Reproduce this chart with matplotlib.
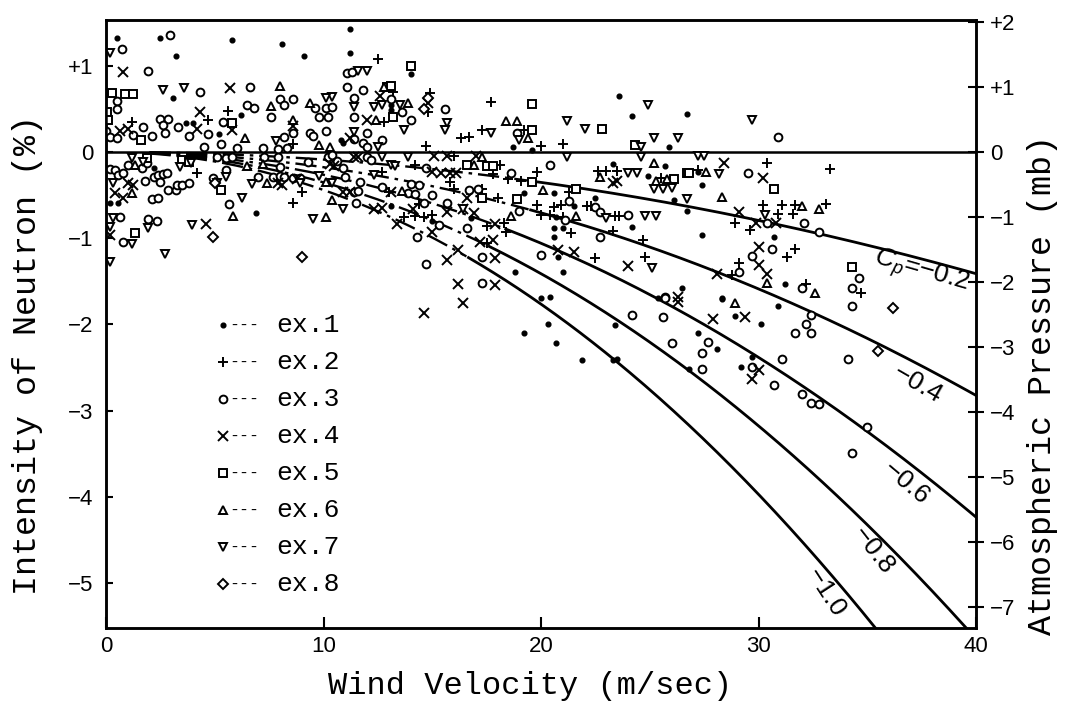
import numpy as np
import matplotlib
matplotlib.use('Agg')
import matplotlib.pyplot as plt

# (wind velocity m/s, neutron intensity %), one list per run
ex1 = [(0.5, 1.32), (2.5, 1.32), (3.2, 1.11), (5.8, 1.30), (8.1, 1.25), (9.1, 1.11), (11.2, 1.42),
       (11.2, 1.15), (3.1, 0.63), (6.2, 0.43), (3.7, 0.34), (4.0, 0.34), (5.2, 0.21), (10.8, 0.14),
       (10.9, 0.10), (2.2, -0.19), (0.2, -0.59), (0.55, -0.59), (6.9, -0.71), (14.0, 0.90),
       (13.1, 0.55), (13.1, 0.49), (18.7, 0.06), (19.6, 0.02), (23.6, 0.65), (24.2, 0.42),
       (26.7, 0.44), (25.9, 0.06), (23.3, -0.14), (25.7, -0.16), (24.9, -0.28), (26.1, -0.56),
       (26.7, -0.68), (20.6, -0.48), (19.2, -0.48), (13.1, -0.63), (16.8, -0.77), (21.5, -0.63),
       (22.5, -0.53), (20.7, -0.75), (24.2, -0.87), (20.6, -0.88), (21.0, -0.88), (20.6, -0.99),
       (26.5, -1.58), (21.0, -1.39), (20.8, -1.22), (18.8, -1.39), (15.0, -0.80), (20.0, -1.69),
       (20.4, -1.68), (20.3, -2.00), (19.2, -2.10), (20.7, -2.22), (21.9, -2.41), (23.3, -2.41),
       (23.5, -2.40), (23.4, -2.01), (25.4, -1.69), (26.8, -2.52), (27.2, -0.23), (27.4, -0.38),
       (27.4, -0.96), (30.7, -0.99), (31.2, -1.53), (28.3, -1.69), (28.3, -1.71), (30.9, -1.79),
       (27.2, -2.10), (28.9, -1.90), (30.1, -2.00), (28.1, -2.29), (29.7, -2.38), (29.2, -2.49)]
ex2 = [(12.5, 1.08), (5.6, 0.48), (1.2, 0.35), (4.7, 0.37), (12.8, 0.35), (8.6, 0.09), (4.2, -0.24),
       (8.6, -0.59), (9.0, -0.46), (12.7, -0.23), (13.0, -0.46), (13.2, 0.70), (14.9, 0.68),
       (14.8, 0.46), (16.3, 0.16), (16.7, 0.17), (17.7, 0.58), (17.3, 0.25), (19.2, 0.25), (14.7, 0.07),
       (20.0, 0.07), (21.0, 0.09), (16.0, -0.05), (18.1, -0.15), (22.6, -0.22), (23.0, -0.22),
       (23.5, -0.22), (25.5, -0.30), (19.8, -0.23), (18.5, -0.31), (19.1, -0.34), (21.3, -0.46),
       (17.8, -0.26), (14.2, -0.15), (15.8, -0.35), (16.0, -0.43), (17.3, -0.43), (18.0, -0.53),
       (14.4, -0.60), (17.5, -0.86), (18.3, -0.82), (18.4, -0.93), (19.8, -0.61), (20.0, -0.73),
       (20.6, -0.64), (20.9, -0.61), (20.4, -0.73), (21.0, -0.75), (22.1, -0.63), (22.3, -0.63),
       (23.4, -0.74), (23.6, -0.74), (21.4, -0.94), (23.3, -0.92), (24.7, -1.02), (24.8, -1.22),
       (22.5, -1.23), (17.5, -1.06), (13.7, -0.75), (14.2, -0.74), (14.6, -0.75), (15.0, -0.73),
       (30.4, -0.13), (33.3, -0.20), (30.2, -0.61), (31.1, -0.61), (31.7, -0.61), (33.1, -0.60),
       (30.9, -0.72), (31.6, -0.72), (28.9, -0.82), (29.6, -0.90), (31.3, -1.22), (31.7, -1.13),
       (29.1, -1.29), (28.8, -1.43), (32.2, -1.53), (34.7, -1.64), (27.2, -0.21)]
ex3 = [(0.73, 1.19), (2.95, 1.36), (1.95, 0.94), (11.1, 0.92), (11.3, 0.93), (0.5, 0.59), (4.3, 0.70),
       (6.6, 0.75), (8.0, 0.61), (8.2, 0.55), (8.6, 0.61), (11.1, 0.75), (11.8, 0.72), (13.1, 0.61),
       (0.5, 0.50), (6.5, 0.55), (6.8, 0.51), (7.6, 0.41), (9.6, 0.51), (10.1, 0.51), (10.4, 0.52),
       (9.8, 0.41), (10.2, 0.41), (11.4, 0.63), (11.4, 0.41), (2.5, 0.38), (2.85, 0.38), (1.7, 0.29),
       (5.4, 0.35), (4.7, 0.21), (3.8, 0.19), (3.3, 0.29), (2.6, 0.31), (2.7, 0.22), (0.0, 0.24),
       (0.2, 0.17), (1.25, 0.20), (2.1, 0.19), (0.5, 0.16), (5.3, 0.09), (4.5, 0.06), (6.0, 0.05),
       (7.2, 0.05), (7.9, 0.03), (8.3, 0.05), (8.2, 0.17), (8.6, 0.22), (9.4, 0.22), (9.5, 0.19),
       (10.1, 0.24), (11.4, 0.15), (12.0, 0.22), (11.8, 0.10), (12.0, 0.06), (12.7, 0.14),
       (0.2, -0.20), (0.4, -0.21), (0.55, -0.27), (0.8, -0.24), (1.0, -0.15), (1.65, -0.19),
       (1.8, -0.34), (2.2, -0.29), (2.4, -0.27), (2.6, -0.26), (2.8, -0.24), (2.5, -0.35),
       (2.85, -0.44), (3.2, -0.44), (3.25, -0.38), (3.5, -0.38), (3.8, -0.36), (4.9, -0.30),
       (2.1, -0.55), (2.4, -0.53), (0.65, -0.75), (1.95, -0.78), (2.35, -0.80), (0.8, -1.04),
       (5.65, -0.60), (7.0, -0.29), (7.7, -0.29), (8.0, -0.28), (8.2, -0.29), (8.6, -0.30),
       (8.9, -0.30), (8.0, -0.17), (7.25, -0.06), (7.9, -0.06), (11.0, -0.29), (10.9, -0.19),
       (11.7, -0.35), (12.7, -0.41), (11.4, -0.46), (11.6, -0.45), (11.5, -0.59), (9.3, -0.12),
       (10.2, -0.06), (10.4, -0.03), (10.6, -0.10), (12.0, -0.06), (12.2, -0.09), (5.1, -0.06),
       (5.5, -0.07), (5.8, -0.06), (5.5, -0.21), (1.9, -0.13), (14.0, 0.37), (13.6, 0.46),
       (15.6, 0.50), (18.9, 0.22), (20.4, -0.15), (18.6, -0.24), (14.7, -0.19), (14.0, -0.37),
       (14.4, -0.38), (13.9, -0.48), (14.2, -0.49), (15.0, -0.50), (16.7, -0.44), (17.1, -0.43),
       (19.0, -0.68), (14.6, -0.59), (15.7, -0.59), (21.3, -0.57), (21.1, -0.79), (22.5, -0.64),
       (22.7, -0.70), (24.0, -0.73), (22.7, -0.99), (20.0, -1.19), (17.3, -1.22), (17.3, -1.52),
       (14.7, -1.30), (15.3, -0.85), (16.6, -0.88), (14.3, -0.99), (25.7, -1.68), (29.5, -0.24),
       (30.4, -0.82), (32.1, -0.82), (32.8, -0.93), (30.6, -1.13), (29.7, -1.21), (29.1, -1.39),
       (32.0, -1.58), (34.6, -1.46), (34.3, -1.58), (34.3, -1.79), (32.2, -2.00), (32.4, -1.89),
       (31.7, -2.10), (32.4, -2.10), (27.7, -2.20), (27.4, -2.33), (27.4, -2.52), (29.7, -2.49),
       (31.1, -2.40), (30.7, -2.70), (34.1, -2.40), (32.0, -2.81), (32.4, -2.91), (32.8, -2.92),
       (35.0, -3.19), (34.3, -3.49), (24.2, -1.89), (25.6, -1.91), (26.0, -2.22), (25.7, -1.69),
       (30.9, 0.17)]
ex4 = [(0.77, 0.93), (5.7, 0.74), (12.6, 0.65), (4.3, 0.46), (12.0, 0.37), (5.8, 0.25), (4.2, 0.27),
       (8.6, 0.30), (0.65, 0.24), (1.0, 0.27), (11.2, 0.16), (0.4, -0.48), (0.8, -0.53), (1.0, -0.36),
       (1.25, -0.38), (0.2, -0.96), (4.6, -0.84), (7.9, -0.36), (8.1, -0.38), (8.8, -0.31),
       (10.9, -0.47), (11.2, -0.47), (12.3, -0.66), (12.7, -0.65), (10.3, -0.14), (10.5, -0.16),
       (11.4, -0.06), (11.6, -0.06), (14.8, 0.57), (15.1, -0.05), (15.7, -0.05), (17.0, -0.05),
       (15.4, -0.24), (15.8, -0.24), (16.1, -0.24), (15.0, -0.23), (13.1, -0.46), (16.6, -0.53),
       (14.1, -0.66), (15.7, -0.70), (16.4, -0.66), (16.9, -0.71), (17.9, -0.84), (23.5, -0.34),
       (23.3, -0.36), (24.0, -1.32), (20.8, -1.14), (21.5, -1.16), (17.2, -1.04), (17.8, -1.02),
       (17.9, -1.23), (17.9, -1.54), (16.2, -1.53), (15.7, -1.25), (16.2, -1.14), (15.0, -0.93),
       (13.4, -0.84), (26.3, -1.68), (14.6, -1.87), (16.4, -1.75), (26.3, -1.74), (28.4, -0.13),
       (30.2, -0.30), (29.1, -0.70), (29.9, -0.82), (30.8, -0.82), (30.0, -1.10), (30.0, -1.31),
       (28.1, -1.42), (30.4, -1.42), (27.9, -1.94), (29.4, -1.91), (30.0, -2.53), (29.7, -2.63)]
ex5 = [(0.27, 0.68), (0.87, 0.67), (1.24, 0.67), (12.9, 0.75), (0.05, 0.46), (0.1, 0.37), (5.8, 0.33),
       (13.2, 0.41), (1.6, 0.14), (14.0, 1.00), (13.1, 0.77), (19.6, 0.56), (19.6, 0.26), (22.8, 0.27),
       (24.3, 0.08), (1.9, -0.07), (3.5, -0.09), (3.8, -0.12), (1.33, -0.94), (5.3, -0.44),
       (16.6, -0.15), (17.5, -0.16), (17.8, -0.16), (26.1, -0.31), (26.7, -0.24), (19.6, -0.35),
       (21.6, -0.43), (17.3, -0.53), (18.9, -0.55), (26.8, -0.24), (30.7, -0.43), (34.3, -1.33)]
ex6 = [(8.0, 0.77), (12.8, 0.75), (9.4, 0.57), (7.6, 0.53), (12.4, 0.37), (8.6, 0.37), (6.4, 0.16),
       (9.8, 0.08), (10.3, 0.06), (1.33, -0.15), (1.2, -0.48), (5.85, -0.74), (10.1, -0.75),
       (7.4, -0.36), (6.5, -0.16), (7.2, -0.14), (10.1, -0.35), (10.4, -0.56), (13.9, 0.57),
       (18.4, 0.36), (18.9, 0.36), (19.4, 0.16), (16.9, -0.15), (17.3, -0.06), (25.2, -0.13),
       (22.7, -0.29), (25.3, -0.34), (25.8, -0.31), (20.1, -0.44), (13.6, -0.45), (18.6, -0.74),
       (21.6, -0.74), (27.6, -0.23), (28.3, -0.52), (32.0, -0.63), (32.8, -0.66), (30.4, -1.52),
       (32.6, -1.64), (28.9, -1.75)]
ex7 = [(0.2, 1.15), (11.6, 0.94), (12.0, 0.94), (2.6, 0.72), (3.6, 0.74), (10.4, 0.64), (10.1, 0.63),
       (11.4, 0.52), (12.3, 0.52), (12.7, 0.55), (7.8, 0.13), (11.4, 0.23), (12.5, 0.06), (0.3, -0.36),
       (1.2, -0.07), (1.7, -0.12), (3.4, -0.17), (3.9, -0.13), (0.3, -0.77), (1.2, -1.07),
       (1.95, -0.88), (0.2, -0.87), (0.2, -1.28), (2.7, -1.18), (6.25, -0.53), (3.95, -0.85),
       (9.5, -0.78), (10.9, -0.66), (6.7, -0.37), (5.1, -0.36), (5.5, -0.29), (9.8, -0.28),
       (10.4, -0.36), (12.3, -0.27), (13.1, -0.15), (13.3, -0.16), (8.9, -0.36), (12.7, -0.06),
       (13.5, 0.55), (13.7, 0.25), (15.7, 0.34), (15.6, 0.25), (17.7, 0.22), (19.0, 0.14), (21.2, 0.36),
       (22.0, 0.27), (24.9, 0.55), (25.2, 0.16), (26.3, 0.16), (24.6, 0.06), (29.7, 0.37),
       (13.9, -0.06), (21.2, -0.06), (24.6, -0.06), (24.0, -0.24), (24.4, -0.24), (25.2, -0.43),
       (25.6, -0.43), (26.0, -0.42), (26.7, -0.55), (16.4, -0.66), (23.0, -0.77), (24.8, -0.74),
       (25.3, -0.74), (25.1, -1.35), (27.2, -0.05), (27.5, -0.05), (28.2, -0.26), (30.3, -0.73)]
ex8 = [(4.9, -0.99), (9.0, -1.22), (14.6, 0.50), (14.8, 0.62), (5.0, -0.36), (36.2, -1.81), (35.5, -2.31)]

runs = [ex1, ex2, ex3, ex4, ex5, ex6, ex7, ex8]
run_names = ['ex.1', 'ex.2', 'ex.3', 'ex.4', 'ex.5', 'ex.6', 'ex.7', 'ex.8']
run_markers = ['.', '+', 'o', 'x', 's', '^', 'v', 'D']

# theoretical curves: pressure drop 1/2 rho Cp v^2 turned into neutron change
cp_values = [-0.2, -0.4, -0.6, -0.8, -1.0]
cp_solid_from = [19.5, 19.5, 18.3, 17.6, 16.6]   # dash-dot below this velocity
cp_label_text = [r'$C_p$=$-$0.2', '$-$0.4', '$-$0.6', '$-$0.8', '$-$1.0']
cp_label_pos = [(37.5, -1.39), (37.3, -2.69), (36.8, -3.83), (35.3, -4.61), (33.1, -5.09)]
cp_label_rot = [-16, -30, -40, -52, -57]

AIR_DENSITY = 1.17     # kg/m^3
BARO_COEF = 0.754      # % per mb

left_ticks = [1, 0, -1, -2, -3, -4, -5]
left_labels = ['+1', '0', '\u22121', '\u22122', '\u22123', '\u22124', '\u22125']
right_ticks = [2, 1, 0, -1, -2, -3, -4, -5, -6, -7]
right_labels = ['+2', '+1', '0', '\u22121', '\u22122', '\u22123', '\u22124', '\u22125', '\u22126', '\u22127']
x_ticks = [0, 10, 20, 30, 40]

plt.rcParams['mathtext.fontset'] = 'custom'
plt.rcParams['mathtext.rm'] = 'Liberation Sans'
plt.rcParams['mathtext.it'] = 'Liberation Sans:italic'
plt.rcParams['font.family'] = ['Liberation Sans', 'DejaVu Sans']


def marker_style(mk):
    if mk == '.':
        return dict(marker='o', ms=3.4, color='k')
    if mk in ('+', 'x'):
        return dict(marker=mk, ms=6.5, mew=1.4, color='k')
    return dict(marker=mk, ms=5.6 if mk != 'D' else 5, mfc='white', mec='k', mew=1.4)


fig = plt.figure(figsize=(10.66, 7.06), dpi=100)
ax = fig.add_axes([106 / 1066, 1 - 628 / 706, 870 / 1066, 608 / 706])
ylo, yhi = -5.52, 1.53
ax.set_xlim(0, 40)
ax.set_ylim(ylo, yhi)

ax.axhline(0, color='k', lw=1.8, zorder=2)

for cp, vs in zip(cp_values, cp_solid_from):
    v = np.linspace(2, 40, 400)
    y = cp * 0.5 * AIR_DENSITY * v ** 2 / 100 * BARO_COEF
    dash = v <= vs
    ax.plot(v[dash], y[dash], color='k', lw=1.7, ls=(0, (9, 2.5, 1.5, 2.5)), zorder=2)
    ax.plot(v[v >= vs], y[v >= vs], color='k', lw=2.0, zorder=2)

for txt, (tx, ty), rot in zip(cp_label_text, cp_label_pos, cp_label_rot):
    ax.text(tx, ty, txt, fontsize=19, rotation=rot, ha='center', va='center',
            rotation_mode='anchor')

for pts, mk in zip(runs, run_markers):
    v = [p[0] for p in pts]
    y = [p[1] for p in pts]
    ax.plot(v, y, ls='none', zorder=3, **marker_style(mk))

# legend drawn by hand, marker + dashes + typewriter label
for k, (name, mk) in enumerate(zip(run_names, run_markers)):
    yf = (628 - (325 + 37 * k)) / 608
    ax.plot([0.135], [yf], transform=ax.transAxes, ls='none', **marker_style(mk))
    ax.text(0.142, yf, '---', transform=ax.transAxes, fontsize=12, family='Liberation Mono',
            ha='left', va='center')
    ax.text(0.196, yf, name, transform=ax.transAxes, fontsize=19, family='Liberation Mono',
            ha='left', va='center')

ax.set_xticks(x_ticks)
ax.set_xticklabels([str(t) for t in x_ticks])
ax.set_yticks(left_ticks)
ax.set_yticklabels(left_labels)
ax.tick_params(axis='x', direction='in', length=8, width=1.5, labelsize=16, pad=6)
ax.tick_params(axis='y', direction='in', length=5, width=1.5, labelsize=16, pad=9)
for s in ax.spines.values():
    s.set_linewidth(1.8)

ax2 = ax.twinx()
ax2.set_ylim(ylo / BARO_COEF, yhi / BARO_COEF)
ax2.set_yticks(right_ticks)
ax2.set_yticklabels(right_labels)
ax2.tick_params(axis='y', direction='inout', length=12, width=1.5, labelsize=16, pad=4)
for s in ax2.spines.values():
    s.set_linewidth(1.8)

fig.text(530 / 1066, 1 - 686 / 706, 'Wind Velocity (m/sec)', family='Liberation Mono',
         fontsize=23, ha='center', va='center')
fig.text(28 / 1066, 1 - 355 / 706, 'Intensity of Neutron (%)', family='Liberation Mono',
         fontsize=24, ha='center', va='center', rotation=90)
fig.text(1043 / 1066, 1 - 385 / 706, 'Atmospheric Pressure (mb)', family='Liberation Mono',
         fontsize=24, ha='center', va='center', rotation=90)

fig.savefig('out.png', dpi=100)
